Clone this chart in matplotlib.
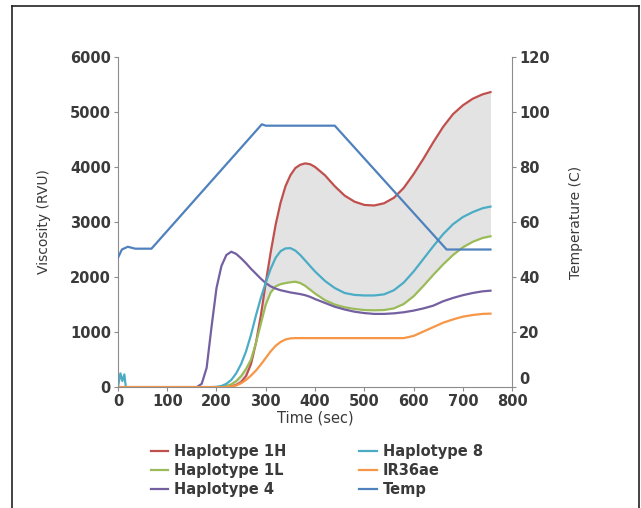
import matplotlib.pyplot as plt
from matplotlib.lines import Line2D

plt.rcParams.update(
    {
        "font.family": ["DejaVu Sans"],
        "font.size": 10,
        "axes.edgecolor": "#8c8c8c",
        "xtick.color": "#8c8c8c",
        "ytick.color": "#8c8c8c",
        "xtick.labelcolor": "#3a3a3a",
        "ytick.labelcolor": "#3a3a3a",
        "axes.labelcolor": "#3a3a3a",
    }
)

# time axis shared by the pasting curves (sec)
time_s = [0, 5, 9, 13, 16, 160, 170, 180, 190, 200, 210, 220, 230, 240, 250, 260,
          270, 280, 290, 300, 310, 320, 330, 340, 350, 360, 370, 380, 390, 400,
          420, 440, 460, 480, 500, 520, 540, 560, 580, 600, 620, 640, 660, 680,
          700, 720, 740, 756]

hap_1h = [0, 0, 0, 0, 0, 0, 0, 0, 0, 0, 0, 5, 15, 40, 90, 200,
          420, 800, 1300, 1900, 2450, 2950, 3350, 3650, 3850, 3980, 4040, 4065, 4050, 4000,
          3850, 3650, 3480, 3370, 3310, 3300, 3340, 3440, 3620, 3870, 4150, 4450, 4730, 4960,
          5120, 5240, 5320, 5360]

hap_1l = [0, 0, 0, 0, 0, 0, 0, 0, 0, 0, 5, 20, 50, 110, 200, 330,
          500, 800, 1150, 1500, 1720, 1830, 1870, 1890, 1905, 1915, 1890, 1840, 1770, 1700,
          1580, 1500, 1450, 1420, 1400, 1395, 1400, 1430, 1510, 1650, 1840, 2040, 2230, 2400,
          2540, 2640, 2710, 2740]

hap_4 = [0, 0, 0, 0, 0, 0, 60, 350, 1100, 1800, 2200, 2400, 2460, 2420, 2340, 2250,
         2150, 2060, 1970, 1890, 1830, 1790, 1760, 1740, 1720, 1705, 1690, 1670, 1640, 1600,
         1530, 1460, 1410, 1370, 1345, 1330, 1330, 1340, 1360, 1390, 1430, 1480, 1560, 1620,
         1670, 1710, 1740, 1752]

hap_8 = [0, 250, 110, 230, 0, 0, 0, 0, 0, 5, 20, 60, 130, 250, 420, 650,
         950, 1300, 1620, 1900, 2150, 2350, 2470, 2520, 2525, 2480, 2400, 2300, 2200, 2100,
         1930, 1800, 1710, 1675, 1665, 1665, 1685, 1760, 1900, 2100, 2330, 2560, 2780, 2960,
         3090, 3180, 3250, 3280]

ir36ae = [0, 0, 0, 0, 0, 0, 0, 0, 0, 0, 0, 0, 10, 30, 70, 130,
          210, 300, 410, 530, 650, 750, 820, 865, 885, 890, 890, 890, 890, 890,
          890, 890, 890, 890, 890, 890, 890, 890, 890, 930, 1010, 1090, 1170, 1230,
          1280, 1310, 1330, 1335]

# temperature profile (C)
time_temp = [0, 8, 20, 35, 68, 292, 300, 440, 667, 756]
temp_c = [47, 50, 51, 50.3, 50.3, 95.5, 95, 95, 50, 50]

fig = plt.figure(figsize=(6.41, 5.08), dpi=100)
ax = fig.add_axes([0.184, 0.238, 0.615, 0.65])

ax.fill_between(time_s, hap_1l, hap_1h, color="#e3e3e3", linewidth=0)
ax.plot(time_s, hap_1h, color="#c0504d", lw=1.6, label="Haplotype 1H")
ax.plot(time_s, hap_1l, color="#9bbb59", lw=1.6, label="Haplotype 1L")
ax.plot(time_s, hap_4, color="#7460a0", lw=1.6, label="Haplotype 4")
ax.plot(time_s, hap_8, color="#4bacc6", lw=1.6, label="Haplotype 8")
ax.plot(time_s, ir36ae, color="#f79646", lw=1.6, label="IR36ae")

ax2 = ax.twinx()
ax2.plot(time_temp, temp_c, color="#4f81bd", lw=1.6, label="Temp")

ax.set_xlim(0, 800)
ax.set_ylim(0, 6000)
ax2.set_ylim(0, 120)
ax.set_xticks(range(0, 801, 100))
ax.set_yticks(range(0, 6001, 1000))
ax2.set_yticks(range(0, 121, 20))

for a in (ax, ax2):
    a.spines["top"].set_visible(False)
    a.tick_params(length=3, width=0.8, pad=2, labelsize=10.5)
    for lab in a.get_xticklabels() + a.get_yticklabels():
        lab.set_fontweight("bold")
ax.spines["right"].set_visible(False)
ax2.spines["left"].set_visible(False)
ax2.spines["bottom"].set_visible(False)

# lift the right-hand zero so it sits above the 800 label
ax2.get_yticklabels()[0].set_verticalalignment("bottom")

ax.set_xlabel("Time (sec)", fontsize=10.5, labelpad=1)
ax.set_ylabel("Viscosity (RVU)", fontsize=10, labelpad=14)
ax2.set_ylabel("Temperature (C)", fontsize=10, labelpad=14)

h1, l1 = ax.get_legend_handles_labels()
h2, l2 = ax2.get_legend_handles_labels()
leg = fig.legend(h1 + h2, l1 + l2, ncol=2, frameon=False,
                 prop={"size": 10.5, "weight": "bold"},
                 loc="upper left", bbox_to_anchor=(0.226, 0.137),
                 handlelength=1.2, handletextpad=0.4, columnspacing=5.0,
                 labelspacing=0.28, borderaxespad=0)
for txt in leg.get_texts():
    txt.set_color("#3a3a3a")

# outer frame
frame_kw = dict(color="#222222", lw=1.2, transform=fig.transFigure)
fig.add_artist(Line2D([0.019, 0.019], [0.0, 0.988], **frame_kw))
fig.add_artist(Line2D([0.019, 0.997], [0.988, 0.988], **frame_kw))
fig.add_artist(Line2D([0.997, 0.997], [0.0, 0.988], **frame_kw))

fig.savefig("out.png", dpi=100)
